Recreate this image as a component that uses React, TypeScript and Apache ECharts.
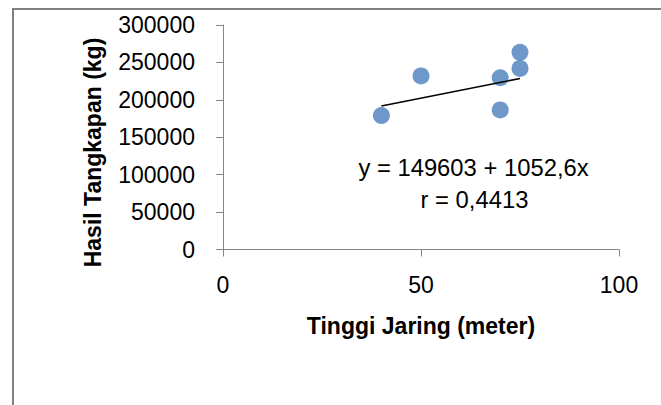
import React, { useEffect, useRef } from "react";
import * as echarts from "echarts";

// Data
const xValues = [40, 50, 70, 70, 75, 75];
const yValues = [179000, 232000, 229500, 186500, 263500, 242000];

// Printed regression equation and correlation
const intercept = 149603;
const slope = 1052.6;
const trendX = [40, 75];
const equationText = "y = 149603 + 1052,6x";
const rText = "r = 0,4413";

const xAxisTitle = "Tinggi Jaring (meter)";
const yAxisTitle = "Hasil Tangkapan (kg)";

const xMin = 0;
const xMax = 100;
const xInterval = 50;
const yMin = 0;
const yMax = 300000;
const yInterval = 50000;

const FONT = "'Liberation Sans', Arial, sans-serif";

export default function App() {
  const ref = useRef<HTMLDivElement>(null);

  useEffect(() => {
    if (!ref.current) return;
    const chart = echarts.init(ref.current, undefined, { renderer: "svg" });
    const scatterData = xValues.map((x, i) => [x, yValues[i]]);
    const trendData = trendX.map((x) => [x, intercept + slope * x]);
    const axisColor = "#868686";

    chart.setOption({
      animation: false,
      backgroundColor: "#ffffff",
      textStyle: { fontFamily: FONT },
      grid: { left: 223, right: 42, top: 25, bottom: 155.5, containLabel: false },
      xAxis: {
        type: "value",
        min: xMin,
        max: xMax,
        interval: xInterval,
        axisLine: { show: true, onZero: false, lineStyle: { color: axisColor, width: 1 } },
        axisTick: { show: true, length: 7, lineStyle: { color: axisColor } },
        axisLabel: {
          color: "#000",
          fontSize: 23,
          fontFamily: FONT,
          margin: 24,
          formatter: (v: number) => String(v),
        },
        splitLine: { show: false },
      },
      yAxis: {
        type: "value",
        min: yMin,
        max: yMax,
        interval: yInterval,
        axisLine: { show: true, onZero: false, lineStyle: { color: axisColor, width: 1 } },
        axisTick: { show: true, length: 7, lineStyle: { color: axisColor } },
        axisLabel: {
          color: "#000",
          fontSize: 23,
          fontFamily: FONT,
          margin: 28,
          formatter: (v: number) => String(v),
        },
        splitLine: { show: false },
      },
      series: [
        {
          type: "scatter",
          data: scatterData,
          symbol: "circle",
          symbolSize: 17,
          itemStyle: { color: "#4a7ebb" },
          z: 2,
        },
        {
          type: "line",
          data: trendData,
          showSymbol: false,
          symbol: "none",
          lineStyle: { color: "#000", width: 1.6 },
          z: 3,
        },
      ],
      graphic: [
        {
          type: "rect",
          silent: true,
          z: -10,
          shape: { x: 13, y: 9, width: 700, height: 500 },
          style: { fill: "none", stroke: "#808080", lineWidth: 2 },
        },
        {
          type: "text",
          x: 93,
          y: 152.5,
          rotation: Math.PI / 2,
          style: {
            text: yAxisTitle,
            fontSize: 23,
            fontWeight: "bold",
            fontFamily: FONT,
            fill: "#000",
            textAlign: "center",
            textVerticalAlign: "middle",
          },
        },
        {
          type: "text",
          x: 421,
          y: 326,
          style: {
            text: xAxisTitle,
            fontSize: 23,
            fontWeight: "bold",
            fontFamily: FONT,
            fill: "#000",
            textAlign: "center",
            textVerticalAlign: "middle",
          },
        },
        {
          type: "text",
          x: 473.5,
          y: 167.5,
          style: {
            text: equationText,
            fontSize: 23.8,
            fontFamily: FONT,
            fill: "#000",
            textAlign: "center",
            textVerticalAlign: "middle",
          },
        },
        {
          type: "text",
          x: 474.5,
          y: 199,
          style: {
            text: rText,
            fontSize: 23.8,
            fontFamily: FONT,
            fill: "#000",
            textAlign: "center",
            textVerticalAlign: "middle",
          },
        },
      ],
    });

    return () => {
      chart.dispose();
    };
  }, []);

  return (
    <div
      ref={ref}
      style={{ position: "fixed", left: 0, top: 0, width: 661, height: 405, background: "#fff" }}
    />
  );
}
